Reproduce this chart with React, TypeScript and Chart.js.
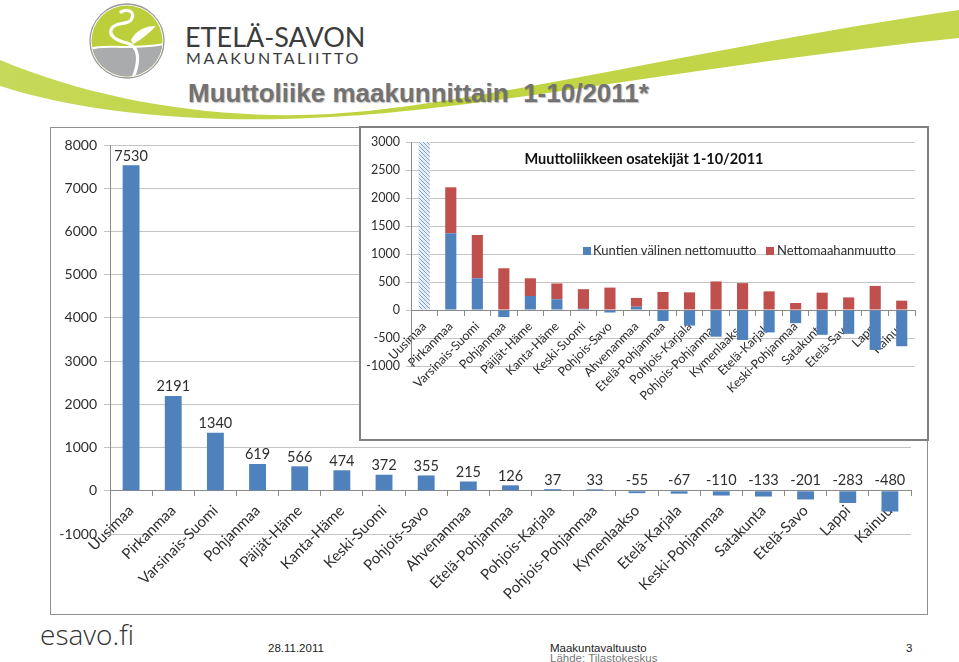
import React, { useEffect, useRef } from "react";
import { Chart, registerables } from "chart.js";

Chart.register(...registerables);

// ---------- DATA ----------
const regions = [
  "Uusimaa", "Pirkanmaa", "Varsinais-Suomi", "Pohjanmaa", "Päijät-Häme",
  "Kanta-Häme", "Keski-Suomi", "Pohjois-Savo", "Ahvenanmaa", "Etelä-Pohjanmaa",
  "Pohjois-Karjala", "Pohjois-Pohjanmaa", "Kymenlaakso", "Etelä-Karjala",
  "Keski-Pohjanmaa", "Satakunta", "Etelä-Savo", "Lappi", "Kainuu",
];
// total net migration 1-10/2011 (main chart)
const totalNetMigration = [
  7530, 2191, 1340, 619, 566, 474, 372, 355, 215, 126, 37, 33, -55, -67, -110, -133, -201, -283, -480,
];
const mainAxisMin = -1000;
const mainAxisMax = 8000;
const mainAxisStep = 1000;

// inset: components
const interMunicipalNet = [
  null, 1370, 566, -126, 250, 191, 20, -45, 60, -196, -278, -477, -535, -400, -235, -443, -426, -713, -647,
];
const netImmigration = [
  null, 821, 774, 745, 316, 283, 352, 400, 155, 322, 315, 510, 480, 333, 125, 310, 225, 430, 167,
];
// Uusimaa shown as an off-scale hatched bar in the inset
const insetOffScale = [
  7530, null, null, null, null, null, null, null, null, null, null, null, null, null, null, null, null, null, null,
];
const insetAxisMin = -1000;
const insetAxisMax = 3000;
const insetAxisStep = 500;

const insetTitle = "Muuttoliikkeen osatekijät 1-10/2011";
const seriesNames = ["Kuntien välinen nettomuutto", "Nettomaahanmuutto"];

const BLUE = "#4F81BD";
const RED = "#C0504D";
const GRID = "#C4C4C4";
const AXIS = "#8A8A8A";
const TXT = "#2e2e2e";
const FONT = "Lato, 'Open Sans', sans-serif";
const ARIAL = "'Liberation Sans', Arial, sans-serif";

function makeHatch(): CanvasPattern | string {
  const c = document.createElement("canvas");
  c.width = 4;
  c.height = 4;
  const g = c.getContext("2d");
  if (!g) return "#B9CDE5";
  g.fillStyle = "#E6EEF7";
  g.fillRect(0, 0, 4, 4);
  g.strokeStyle = "#7FA3CF";
  g.lineWidth = 1;
  g.beginPath();
  g.moveTo(0, 0);
  g.lineTo(4, 4);
  g.moveTo(-1, 3);
  g.lineTo(1, 5);
  g.moveTo(3, -1);
  g.lineTo(5, 1);
  g.stroke();
  return g.createPattern(c, "repeat") || "#B9CDE5";
}

const plainNumber = (v: any) => String(v);

const mainLabelsPlugin = {
  id: "mainLabels",
  afterDatasetsDraw(chart: any) {
    const ctx = chart.ctx;
    const meta = chart.getDatasetMeta(0);
    const y0 = chart.scales.y.getPixelForValue(0);
    const data = chart.data.datasets[0].data as number[];
    ctx.save();
    ctx.font = `14.5px ${FONT}`;
    ctx.fillStyle = TXT;
    ctx.textAlign = "center";
    ctx.textBaseline = "bottom";
    meta.data.forEach((bar: any, i: number) => {
      const v = data[i];
      const y = v >= 0 ? bar.y - 2 : y0 - 3;
      ctx.fillText(String(v), bar.x, y);
    });
    ctx.restore();
  },
};

function MainChart() {
  const ref = useRef<HTMLCanvasElement>(null);
  useEffect(() => {
    if (!ref.current) return;
    const chart = new Chart(ref.current, {
      type: "bar",
      data: {
        labels: regions,
        datasets: [
          {
            data: totalNetMigration,
            backgroundColor: BLUE,
            barPercentage: 0.4,
            categoryPercentage: 1,
          },
        ],
      },
      options: {
        responsive: false,
        animation: false,
        layout: { padding: { left: 0, right: 16, top: 17, bottom: 80 } },
        plugins: { legend: { display: false }, tooltip: { enabled: false }, title: { display: false } },
        scales: {
          x: {
            position: { y: 0 } as any,
            grid: { offset: true, drawOnChartArea: false, drawTicks: true, tickLength: 5, color: AXIS },
            border: { color: AXIS, width: 1 },
            ticks: {
              autoSkip: false,
              minRotation: 45,
              maxRotation: 45,
              padding: 6,
              color: TXT,
              font: { family: FONT, size: 15 },
            },
          },
          y: {
            min: mainAxisMin,
            max: mainAxisMax,
            afterFit: (s: any) => {
              s.width = 59;
            },
            grid: { color: GRID, tickLength: 6, drawTicks: true },
            border: { color: AXIS, width: 1 },
            ticks: {
              stepSize: mainAxisStep,
              padding: 7,
              color: TXT,
              font: { family: FONT, size: 14 },
              callback: plainNumber,
            },
          },
        },
      },
      plugins: [mainLabelsPlugin],
    });
    return () => chart.destroy();
  }, []);
  return <canvas ref={ref} width={876} height={486} style={{ display: "block" }} />;
}

function InsetChart() {
  const ref = useRef<HTMLCanvasElement>(null);
  useEffect(() => {
    if (!ref.current) return;
    const hatch = makeHatch();
    const chart = new Chart(ref.current, {
      type: "bar",
      data: {
        labels: regions,
        datasets: [
          {
            label: seriesNames[0],
            data: interMunicipalNet,
            backgroundColor: BLUE,
            barPercentage: 0.42,
            categoryPercentage: 1,
          },
          {
            label: seriesNames[1],
            data: netImmigration,
            backgroundColor: RED,
            barPercentage: 0.42,
            categoryPercentage: 1,
          },
          {
            label: "Uusimaa",
            data: insetOffScale,
            backgroundColor: hatch as any,
            barPercentage: 0.42,
            categoryPercentage: 1,
            clip: 0 as any,
          },
        ],
      },
      options: {
        responsive: false,
        animation: false,
        layout: { padding: { left: 0, right: 12, top: 14, bottom: 73 } },
        plugins: { legend: { display: false }, tooltip: { enabled: false }, title: { display: false } },
        scales: {
          x: {
            stacked: true,
            position: { y: 0 } as any,
            grid: { offset: true, drawOnChartArea: false, drawTicks: true, tickLength: 5, color: AXIS },
            border: { color: AXIS, width: 1 },
            ticks: {
              autoSkip: false,
              minRotation: 45,
              maxRotation: 45,
              padding: 4,
              color: TXT,
              font: { family: FONT, size: 12.5 },
            },
          },
          y: {
            stacked: true,
            min: insetAxisMin,
            max: insetAxisMax,
            afterFit: (s: any) => {
              s.width = 50;
            },
            grid: { color: GRID, tickLength: 5, drawTicks: true },
            border: { color: AXIS, width: 1 },
            ticks: {
              stepSize: insetAxisStep,
              padding: 6,
              color: TXT,
              font: { family: FONT, size: 12.5 },
              callback: plainNumber,
            },
          },
        },
      },
    });
    return () => chart.destroy();
  }, []);
  return <canvas ref={ref} width={566} height={311} style={{ display: "block" }} />;
}

function Logo() {
  return (
    <svg width={959} height={140} style={{ position: "absolute", left: 0, top: 0 }}>
      <defs>
        <clipPath id="logoClip">
          <circle cx={127} cy={41} r={35.5} />
        </clipPath>
        <linearGradient id="swooshGrad" x1="0" y1="0" x2="1" y2="0">
          <stop offset="0" stopColor="#C7D95A" />
          <stop offset="0.35" stopColor="#BFD33F" />
          <stop offset="1" stopColor="#C4D64E" />
        </linearGradient>
      </defs>
      <path
        d="M0,60 C100,102 220,120 330,114 C470,106 700,48 959,10 L959,38 C720,62 480,110 330,117 C200,125 80,112 0,86 Z"
        fill="url(#swooshGrad)"
      />
      <circle cx={127} cy={41} r={37} fill="#ffffff" stroke="#9A9A9A" strokeWidth={1.3} />
      <g clipPath="url(#logoClip)">
        <rect x={90} y={4} width={74} height={76} fill="#BCCF3B" />
        <path d="M90,49 C105,43 125,51 165,44 L165,80 L90,80 Z" fill="#A9ABAD" />
        <path d="M90,49 C105,43 125,51 165,44" stroke="#ffffff" strokeWidth={2} fill="none" />
        <path
          d="M121,12 C128,8 136,12 131,20 C127,25 116,22 112,28 C107,36 118,41 127,43 C138,46 141,58 133,78"
          stroke="#ffffff"
          strokeWidth={3.2}
          fill="none"
          strokeLinecap="round"
        />
        <path d="M131,40 C136,30 146,26 156,26 C150,32 144,38 133,44 Z" fill="#ffffff" />
      </g>
      <text x={185} y={47} fontFamily={FONT} fontSize={27} fill="#3c3c3c">
        ETELÄ-SAVON
      </text>
      <text x={186} y={64} fontFamily={FONT} fontSize={16} fill="#3c3c3c" letterSpacing={2.6}>
        MAAKUNTALIITTO
      </text>
    </svg>
  );
}

export default function App() {
  useEffect(() => {
    document.body.style.margin = "0";
  }, []);
  const small = { position: "absolute" as const, fontFamily: ARIAL, fontSize: 11.5, lineHeight: "14px" };
  return (
    <div
      style={{
        position: "absolute",
        left: 0,
        top: 0,
        width: 959,
        height: 662,
        background: "#ffffff",
        overflow: "hidden",
        fontFamily: FONT,
      }}
    >
      <Logo />
      <div
        style={{
          position: "absolute",
          left: 188,
          top: 77,
          fontFamily: ARIAL,
          fontWeight: "bold",
          fontSize: 26,
          lineHeight: "32px",
          color: "#727272",
          whiteSpace: "pre",
          textShadow: "1px 1px 1px rgba(0,0,0,0.25)",
        }}
      >
        {"Muuttoliike maakunnittain  1-10/2011*"}
      </div>

      {/* main chart frame */}
      <div
        style={{
          position: "absolute",
          left: 50,
          top: 127,
          width: 878,
          height: 488,
          border: "1px solid #8f8f8f",
          boxSizing: "border-box",
          background: "#ffffff",
        }}
      >
        <MainChart />
      </div>

      {/* inset chart */}
      <div
        style={{
          position: "absolute",
          left: 359,
          top: 126,
          width: 570,
          height: 315,
          border: "2px solid #808080",
          boxSizing: "border-box",
          background: "#ffffff",
        }}
      >
        <InsetChart />
        <div
          style={{
            position: "absolute",
            left: 0,
            top: 21,
            width: 566,
            textAlign: "center",
            fontFamily: FONT,
            fontWeight: "bold",
            fontSize: 14.5,
            lineHeight: "20px",
            color: "#111",
          }}
        >
          {insetTitle}
        </div>
        <div style={{ position: "absolute", left: 222, top: 119, width: 8, height: 8, background: BLUE }} />
        <div
          style={{
            position: "absolute",
            left: 232,
            top: 112,
            fontSize: 13,
            lineHeight: "20px",
            color: TXT,
            whiteSpace: "nowrap",
          }}
        >
          {seriesNames[0]}
        </div>
        <div style={{ position: "absolute", left: 405, top: 119, width: 8, height: 8, background: RED }} />
        <div
          style={{
            position: "absolute",
            left: 416,
            top: 112,
            fontSize: 13,
            lineHeight: "20px",
            color: TXT,
            whiteSpace: "nowrap",
          }}
        >
          {seriesNames[1]}
        </div>
      </div>

      {/* footer */}
      <div
        style={{
          position: "absolute",
          left: 40,
          top: 616,
          fontFamily: "'Open Sans', Lato, sans-serif",
          fontWeight: 300,
          fontSize: 28,
          lineHeight: "36px",
          color: "#333",
        }}
      >
        esavo.fi
      </div>
      <div style={{ ...small, left: 268, top: 641, color: "#222" }}>28.11.2011</div>
      <div style={{ ...small, left: 550, top: 641, color: "#222" }}>Maakuntavaltuusto</div>
      <div style={{ ...small, left: 550, top: 651, color: "#777" }}>Lähde: Tilastokeskus</div>
      <div style={{ ...small, left: 906, top: 641, color: "#222" }}>3</div>
    </div>
  );
}
